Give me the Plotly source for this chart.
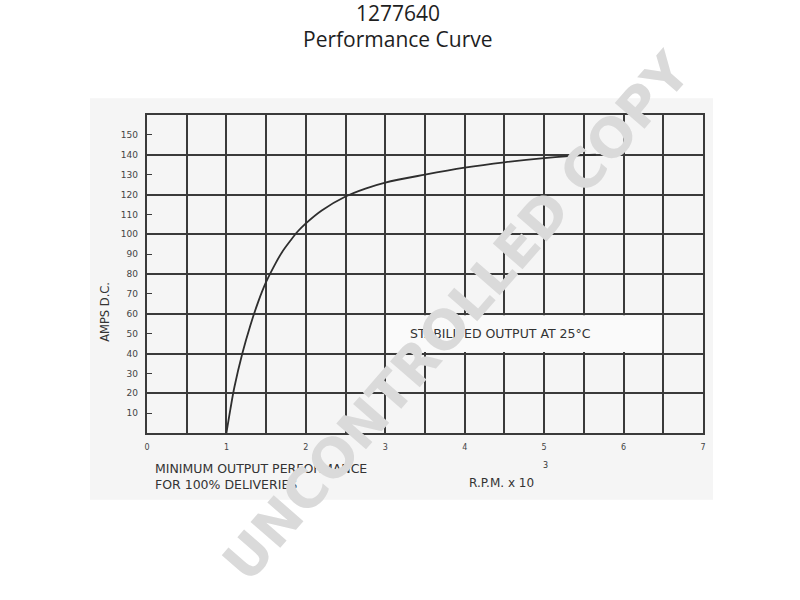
import plotly.graph_objects as go

# Data
rpm_k = [1.0, 1.05, 1.1, 1.2, 1.3, 1.4, 1.5, 1.6, 1.7, 1.8, 1.9, 2.0, 2.2, 2.5, 2.75,
         3.0, 3.5, 4.0, 4.5, 5.0, 5.5, 5.65]
amps = [0, 12, 23, 40, 54, 66, 76, 84, 91, 96.5, 101.5, 105.5, 112, 119, 123,
        126, 130, 133.5, 136.2, 138.3, 139.8, 140]

x_ticks = [0, 1, 2, 3, 4, 5, 6, 7]
y_ticks = [10, 20, 30, 40, 50, 60, 70, 80, 90, 100, 110, 120, 130, 140, 150]

LINE = "#3a3a3a"
TXT = "#333333"
FONT = "DejaVu Sans"

fig = go.Figure()
fig.add_trace(go.Scatter(x=rpm_k, y=amps, mode="lines",
                         line=dict(color="#2e2e2e", width=1.8, shape="spline", smoothing=1.0),
                         hoverinfo="skip", showlegend=False))
# invisible trace for the label axis
fig.add_trace(go.Scatter(x=[0], y=[0], yaxis="y2", mode="markers",
                         marker=dict(opacity=0), hoverinfo="skip", showlegend=False))

fig.update_layout(
    width=800, height=600,
    margin=dict(l=147, r=97, t=115, b=167),
    paper_bgcolor="white",
    plot_bgcolor="rgba(0,0,0,0)",
    showlegend=False,
    xaxis=dict(range=[0, 7], tickvals=x_ticks, ticktext=[str(v) for v in x_ticks],
               showgrid=True, gridcolor=LINE, gridwidth=1.6,
               minor=dict(dtick=0.5, showgrid=True, gridcolor=LINE, gridwidth=1.6),
               showline=True, linecolor=LINE, linewidth=1.8, mirror=True,
               ticks="", ticklabelstandoff=5, zeroline=False,
               tickfont=dict(family=FONT, size=8, color="#444444")),
    yaxis=dict(range=[0, 160], dtick=20, showgrid=True, gridcolor=LINE, gridwidth=1.6,
               showticklabels=False, showline=True, linecolor=LINE, linewidth=1.8,
               mirror=True, zeroline=False, ticks=""),
    yaxis2=dict(range=[0, 160], overlaying="y", side="left", tickvals=y_ticks,
                ticks="inside", ticklen=5, tickcolor=LINE, tickwidth=1.2,
                showgrid=False, zeroline=False, showline=False,
                ticklabelstandoff=8,
                tickfont=dict(family=FONT, size=9, color="#444444")),
)

# light scanned-page background
fig.add_shape(type="rect", xref="paper", yref="paper", x0=-0.1025, x1=1.018,
              y0=-0.2096, y1=1.053, fillcolor="#f5f5f5", line=dict(width=0), layer="below")
# white label box
fig.add_shape(type="rect", xref="x", yref="y", x0=3.015, x1=6.485, y0=40.7, y1=59.3,
              fillcolor="#fafafa", line=dict(width=0), layer="between")

fig.add_annotation(text="STABILISED OUTPUT AT 25°C", x=4.45, y=50, xref="x", yref="y",
                   showarrow=False, font=dict(family=FONT, size=12.5, color=TXT))

# titles
fig.add_annotation(text="1277640", xref="paper", yref="paper", x=0.4514, y=1.321,
                   xanchor="center", yanchor="middle", showarrow=False,
                   font=dict(family="Open Sans", size=21, color="#1e1e1e"))
fig.add_annotation(text="Performance Curve", xref="paper", yref="paper", x=0.4514, y=1.239,
                   xanchor="center", yanchor="middle", showarrow=False,
                   font=dict(family="Open Sans", size=21, color="#1e1e1e"))

# axis titles / notes
fig.add_annotation(text="AMPS D.C.", xref="paper", yref="paper", x=-0.0755, y=0.381,
                   textangle=-90, showarrow=False, xanchor="center", yanchor="middle",
                   font=dict(family=FONT, size=11.5, color=TXT))
fig.add_annotation(text="MINIMUM OUTPUT PERFORMANCE<br>FOR 100% DELIVERIES", xref="paper",
                   yref="paper", x=0.0108, y=-0.1357, xanchor="left", yanchor="middle",
                   align="left", showarrow=False,
                   font=dict(family=FONT, size=12.5, color=TXT))
fig.add_annotation(text="R.P.M. x 10", xref="paper", yref="paper", x=0.6996, y=-0.156,
                   xanchor="right", yanchor="middle", showarrow=False,
                   font=dict(family=FONT, size=12, color=TXT))
fig.add_annotation(text="3", xref="paper", yref="paper", x=0.716, y=-0.103,
                   xanchor="center", yanchor="middle", showarrow=False,
                   font=dict(family=FONT, size=8, color=TXT))

# watermark
fig.add_annotation(text="UNCONTROLLED COPY", xref="paper", yref="paper", x=0.5576, y=0.365,
                   xanchor="center", yanchor="middle", textangle=-49, showarrow=False,
                   font=dict(family="DejaVu Sans", size=54, color="#dadada", weight="bold"))

fig.write_html("out.html", config={"displayModeBar": False},
               post_script="document.body.style.margin='0';")
